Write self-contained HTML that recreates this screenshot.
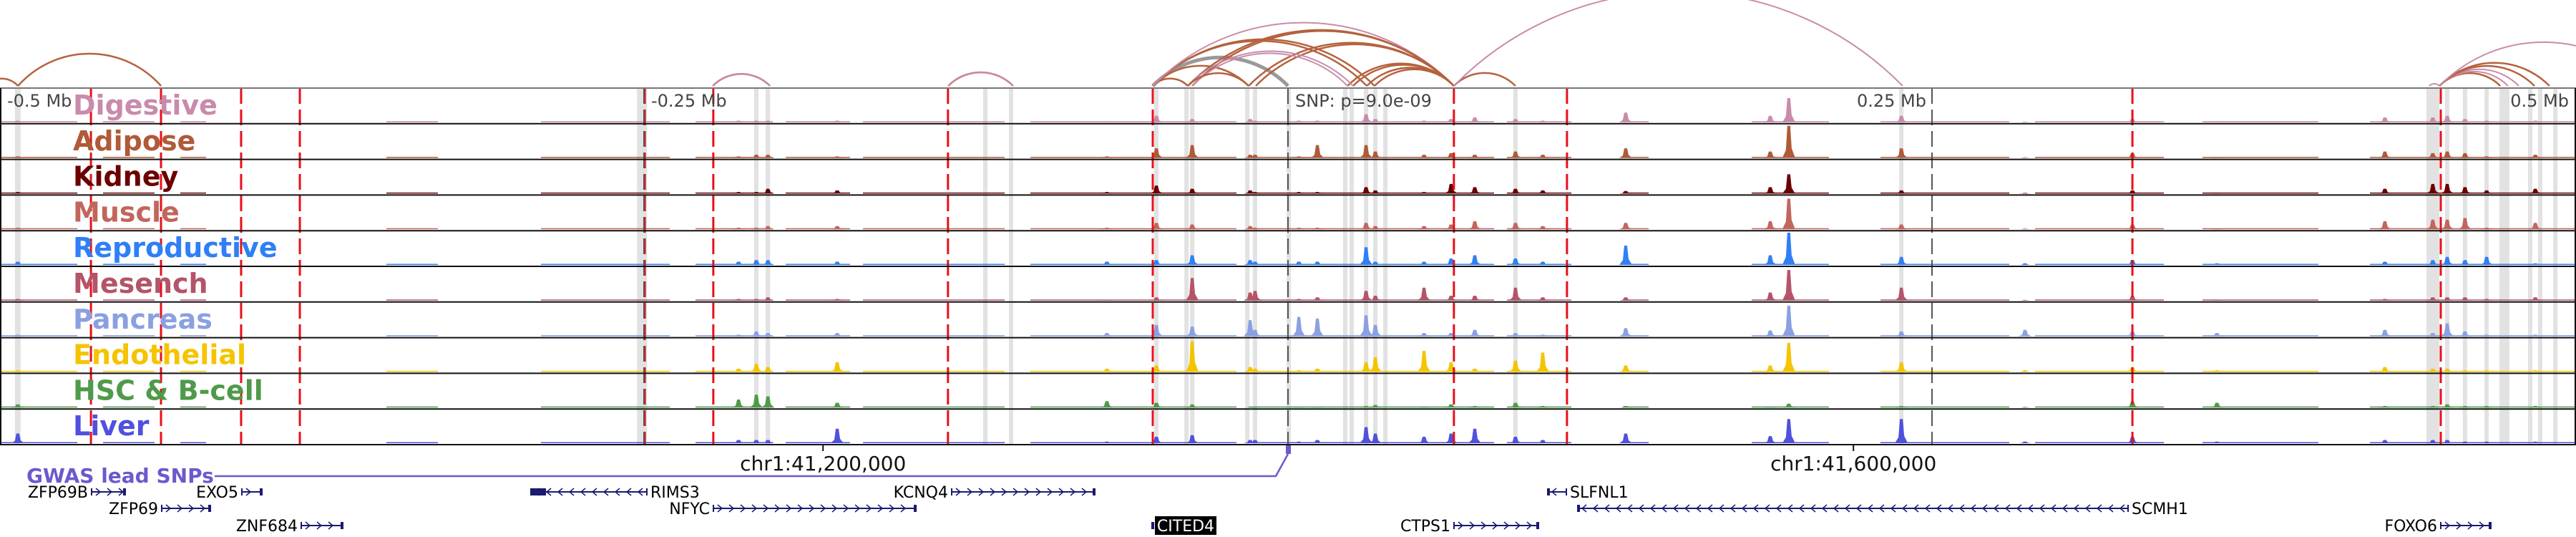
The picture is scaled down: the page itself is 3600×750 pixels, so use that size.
<!DOCTYPE html>
<html><head><meta charset="utf-8"><style>
html,body{margin:0;padding:0;background:#fff;}
svg{display:block;font-family:"DejaVu Sans","Liberation Sans",sans-serif;}
</style></head><body>
<svg id="chart" width="3600" height="750" viewBox="0 0 3600 750" xmlns="http://www.w3.org/2000/svg">
<g id="bands"></g>
<g id="signals"></g>
<g id="vlines"></g>
<g id="frames"></g>
<g id="arcs"></g>
<g id="labels"></g>
<g id="axis"></g>
<g id="genes"></g>
</svg>
<script>
// ---- data ----
const trackNames = ["Digestive","Adipose","Kidney","Muscle","Reproductive","Mesench","Pancreas","Endothelial","HSC & B-cell","Liver"];
const trackColors = ["#c98bab","#b05a38","#6b0000","#c2655c","#2f7ff6","#b45468","#8aa0e0","#f5c400","#4f9a4a","#5050e0"];
const peakPos = [194.4,187.2,238.1,-37.2,30.3,33.9,131.1,-14.7,-12.8,11.4,4.2,52.8,72.5,88.3,98.9,63.3,-51.1,-70.3,450,456.9,465.3,425.8,484.2,360.6,286.1,-175,-201.9,-206.4,-213.3,-493.1,444.4,327.8];
const digestive = [0.75,0.2,0.2,0.1,0.25,0.1,0.3,0.1,0.05,0.05,0.05,0.05,0.15,0.1,0.05,0.1,0.2,0.02,0.2,0.1,0.05,0.15,0.05,0.02,0.02,0.05,0.05,0.05,0.05,0.05,0.15,0.1];
const adipose = [1.0,0.2,0.3,0.4,0.4,0.2,0.3,0.1,0.1,0.4,0.05,0.1,0.1,0.2,0.1,0.15,0.3,0.05,0.2,0.15,0.05,0.2,0.1,0.02,0.02,0.05,0.1,0.1,0.05,0.05,0.15,0.15];
const kidney = [0.6,0.2,0.1,0.15,0.2,0.1,0.08,0.1,0.05,0.05,0.05,0.05,0.2,0.15,0.1,0.3,0.25,0.05,0.3,0.2,0.1,0.15,0.15,0.02,0.02,0.1,0.15,0.05,0.05,0.05,0.3,0.1];
const muscle = [0.95,0.25,0.15,0.15,0.2,0.1,0.2,0.1,0.05,0.05,0.05,0.1,0.25,0.2,0.1,0.15,0.2,0.05,0.3,0.35,0.05,0.25,0.2,0.02,0.02,0.1,0.1,0.05,0.05,0.05,0.3,0.15];
const reproductive = [1.0,0.3,0.25,0.3,0.55,0.1,0.6,0.15,0.1,0.1,0.1,0.1,0.3,0.2,0.1,0.2,0.15,0.1,0.25,0.15,0.25,0.1,0.05,0.05,0.05,0.1,0.15,0.15,0.1,0.1,0.15,0.15];
const mesench = [0.95,0.25,0.4,0.7,0.3,0.15,0.1,0.25,0.3,0.1,0.05,0.4,0.15,0.4,0.1,0.15,0.1,0.02,0.1,0.1,0.05,0.05,0.1,0.02,0.02,0.05,0.1,0.05,0.05,0.05,0.1,0.15];
const pancreas = [0.95,0.18,0.15,0.3,0.65,0.35,0.25,0.5,0.2,0.55,0.6,0.1,0.2,0.1,0.05,0.1,0.35,0.1,0.4,0.15,0.05,0.2,0.05,0.1,0.2,0.1,0.1,0.15,0.05,0.05,0.1,0.15];
const endothelial = [0.9,0.2,0.3,0.95,0.3,0.45,0.2,0.15,0.1,0.1,0.05,0.65,0.1,0.35,0.6,0.3,0.2,0.1,0.1,0.05,0.05,0.15,0.05,0.05,0.05,0.3,0.15,0.25,0.1,0.05,0.1,0.15];
const hsc = [0.12,0.03,0.05,0.1,0.05,0.08,0.05,0.02,0.02,0.02,0.02,0.02,0.05,0.15,0.05,0.1,0.15,0.2,0.1,0.05,0.05,0.05,0.05,0.15,0.02,0.15,0.35,0.4,0.25,0.1,0.05,0.2];
const liver = [0.75,0.22,0.75,0.25,0.5,0.3,0.3,0.1,0.1,0.1,0.05,0.2,0.45,0.2,0.1,0.3,0.2,0.05,0.1,0.05,0.05,0.1,0.05,0.05,0.05,0.45,0.1,0.1,0.1,0.3,0.1,0.2];
const bgStart = [-500,-460,-430,-350,-290,-230,-195,-165,-100,-15,85,130,180,230,290,355,420];
const bgEnd =   [-470,-440,-420,-330,-240,-200,-170,-110,-20,80,110,140,210,280,340,400,500];
const redLines = [-464.7,-437.5,-406.4,-383.6,-249.7,-223.1,-132,-52.5,64.4,108.3,327.8,447.5];
const greyLines = [-250,0,250];
const bandPos = [-493.1,-250.8,-206.4,-201.9,-117.5,-107.5,-51.1,-39.4,-37.2,-15.8,-12.8,0.3,22.2,24.7,30.3,33.9,37.8,88.3,238.1,444.4,450,456.9,465.3,472.2,482.2,486.1,492];
const bandWide = [8,14,6,6,6,6,6,6,6,6,6,6,6,6,6,6,6,6,6,18,6,6,6,14,6,6,6];
const arcFrom = [-505.6,-493,-223.3,-223.3,-131.9,-131.9,-52.5,-52.5,-52.5,-52.5,-52.5,-52.5,-37.2,-38.9,-12.5,-15.3,23.1,25.3,30.6,33.6,-38.9,-37.2,-38.9,64.4,64.4,443,447,447,447,447,447,447];
const arcTo =   [-493,-437.5,-201.1,-201.1,-106.7,-106.7,0,-38.9,-15.3,30.6,33.6,64.4,64.4,64.4,64.4,64.4,64.4,64.4,64.4,64.4,25.3,23.1,-15.3,88.3,238.6,447,470.6,473.6,477.8,483.9,489.7,527.8];
const arcType = [0,0,0,1,0,1,2,0,0,0,0,1,0,0,0,0,0,0,0,0,1,1,0,0,1,1,0,1,1,0,0,1];
const tickKb = [-180.5,219.5];
const tickLabels = ["chr1:41,200,000","chr1:41,600,000"];
const scaleKb = [-500,-250,0,250,500];
const scaleLabels = ["-0.5 Mb","-0.25 Mb","SNP: p=9.0e-09","0.25 Mb","0.5 Mb"];

const series = [digestive,adipose,kidney,muscle,reproductive,mesench,pancreas,endothelial,hsc,liver];
const NS="http://www.w3.org/2000/svg";
const X = kb => 1800 + kb*3.6;
const TOP=123, TH=49.8;
function mk(tag, attrs, parent){const e=document.createElementNS(NS,tag);for(const k in attrs)e.setAttribute(k,attrs[k]);parent.appendChild(e);return e;}
const g = id=>document.getElementById(id);

bandPos.forEach((p,i)=>{
  const r=mk('rect',{x:X(p)-bandWide[i]/2,y:TOP,width:bandWide[i],height:TH*10,fill:'#e2e2e2'},g('bands'));
  
  
});

series.forEach((vals,t)=>{
  const base = TOP + TH*(t+1) - 2;
  const grp = mk('g',{},g('signals'));
  
  
  bgStart.forEach((s,i)=>{
    const r=mk('rect',{x:X(s),y:base-1.5,width:X(bgEnd[i])-X(s),height:1.5,fill:trackColors[t]},grp);
    
    
  });
  peakPos.forEach((p,i)=>{
    const h = vals[i]*45, x=X(p);
    const d=`M${x-9},${base} L${x-4},${base-h*0.25} L${x-2},${base-h} L${x+2},${base-h} L${x+4},${base-h*0.3} L${x+9},${base} Z`;
    const pa=mk('path',{d:d,fill:trackColors[t]},grp);
    
    
  });
});

redLines.forEach(p=>{
  const l=mk('line',{x1:X(p),x2:X(p),y1:TOP,y2:TOP+TH*10,stroke:'#e8101a','stroke-width':3,'stroke-dasharray':'22 8'},g('vlines'));
  
  
});
greyLines.forEach(p=>{
  const l=mk('line',{x1:X(p),x2:X(p),y1:TOP,y2:TOP+TH*10,stroke:'#555','stroke-width':2,'stroke-dasharray':'22 8'},g('vlines'));
  
  
});

mk('line',{x1:0,x2:3600,y1:TOP,y2:TOP,stroke:'#777','stroke-width':2},g('frames'));
for(let i=1;i<=10;i++){
  const l=mk('line',{x1:0,x2:3600,y1:TOP+TH*i,y2:TOP+TH*i,stroke:'#111','stroke-width':2},g('frames'));
  
  
}
mk('line',{x1:1,x2:1,y1:TOP,y2:TOP+TH*10,stroke:'#111','stroke-width':2},g('frames'));
mk('line',{x1:3599,x2:3599,y1:TOP,y2:TOP+TH*10,stroke:'#111','stroke-width':2},g('frames'));

const arcColors=['#b5623e','#c98bab','#999999'];
const arcWidths=[2.5,2,5];
arcFrom.forEach((a,i)=>{
  const x1=X(a), x2=X(arcTo[i]); const c=(x2-x1)/2, h=(i<2?0.45:0.42)*c; const r=(h*h+c*c)/(2*h);
  const p=mk('path',{d:`M${x1},120 A${r},${r} 0 0 1 ${x2},120`,fill:'none',stroke:arcColors[arcType[i]],'stroke-width':arcWidths[arcType[i]]},g('arcs'));
  
  
});

scaleKb.forEach((k,i)=>{
  let x=X(k)+10, anchor='start';
  if(k===500){x=3590;anchor='end';}
  if(k===250){x=X(k)-8;anchor='end';}
  if(k===-500){x=10;}
  const tx=mk('text',{x:x,y:149,'font-size':24,fill:'#444','text-anchor':anchor},g('labels'));
  tx.textContent=scaleLabels[i];
  
  
});
trackNames.forEach((n,t)=>{
  const tx=mk('text',{x:102,y:160+TH*t,'font-size':38,'font-weight':'bold',fill:trackColors[t]},g('labels'));
  tx.textContent=n;
  
  
});

tickKb.forEach((k,i)=>{
  mk('line',{x1:X(k),x2:X(k),y1:622,y2:630,stroke:'#111','stroke-width':2},g('axis'));
  const tx=mk('text',{x:X(k),y:657,'font-size':28,fill:'#111','text-anchor':'middle'},g('axis'));
  tx.textContent=tickLabels[i];
  
  
});

const gw=g('genes');
const gl=mk('text',{x:37,y:674,'font-size':28,'font-weight':'bold',fill:'#6a5acd'},gw);
gl.textContent='GWAS lead SNPs';


mk('polyline',{points:'300,665 1783,665 1800,634',fill:'none',stroke:'#6a5acd','stroke-width':2.5},gw);
const snp=mk('rect',{x:1797,y:622,width:7,height:12,fill:'#6a5acd'},gw);



const genes=[
 ['ZFP69B',127,176,687,1,'L'],['EXO5',337,367,687,1,'L'],['RIMS3',741,905,687,-1,'R'],['KCNQ4',1329,1531,687,1,'L'],['SLFNL1',2162,2190,687,-1,'R'],
 ['ZFP69',225,295,710,1,'L'],['NFYC',996,1281,710,1,'L'],['SCMH1',2204,2975,710,-1,'R'],
 ['ZNF684',420,480,734,1,'L'],['CITED4',1609,1613,734,1,'B'],['CTPS1',2031,2151,734,1,'L'],['FOXO6',3410,3482,734,1,'L']
];
genes.forEach(gn=>{
  const [n,x1,x2,y,s,side]=gn;
  const grp=mk('g',{},gw);
  
  
  mk('line',{x1:x1,x2:x2,y1:y,y2:y,stroke:'#1a1a70','stroke-width':2},grp);
  for(let x=x1+10;x<x2-6;x+=16){
    const pts = s>0?`${x-3},${y-5} ${x+3},${y} ${x-3},${y+5}`:`${x+3},${y-5} ${x-3},${y} ${x+3},${y+5}`;
    mk('polyline',{points:pts,fill:'none',stroke:'#1a1a70','stroke-width':1.5},grp);
  }
  if(n==='RIMS3') mk('rect',{x:741,y:y-5,width:22,height:10,fill:'#1a1a70'},grp);
  mk('rect',{x:s>0?x2-4:x1,y:y-5,width:4,height:10,fill:'#1a1a70'},grp);
  mk('rect',{x:s>0?x1:x2-2,y:y-5,width:2,height:10,fill:'#1a1a70'},grp);
  if(side==='B'){
    mk('rect',{x:1614,y:y-13,width:86,height:26,fill:'#000'},grp);
    const t=mk('text',{x:1657,y:y+8,'font-size':22,fill:'#fff','text-anchor':'middle'},grp);
    t.textContent=n;
  } else {
    const t=mk('text',{x:side==='L'?x1-4:x2+4,y:y+8,'font-size':22,fill:'#000','text-anchor':side==='L'?'end':'start'},grp);
    t.textContent=n;
  }
});
</script>
</body></html>
